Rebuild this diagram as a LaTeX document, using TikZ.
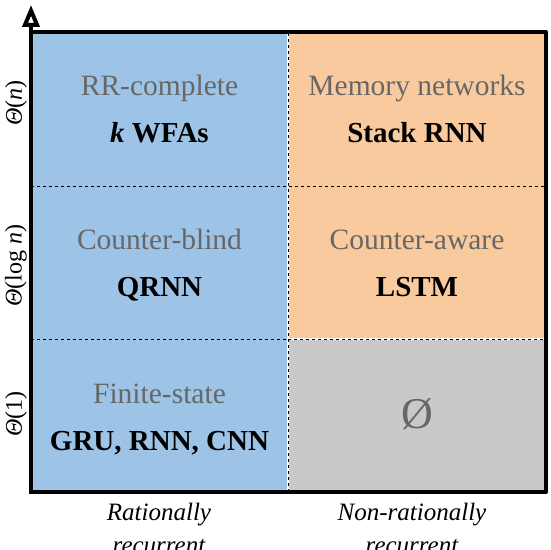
\documentclass[tikz,border=0pt]{standalone}
\usepackage{fontspec}
\setmainfont{Liberation Serif}
\usetikzlibrary{arrows.meta}
\definecolor{cellblue}{HTML}{9DC3E6}
\definecolor{cellorange}{HTML}{F8CA9E}
\definecolor{cellgray}{HTML}{C9C9C9}
\definecolor{labelgray}{HTML}{676767}
\begin{document}
\begin{tikzpicture}[x=1pt, y=1pt, line join=round,
	cls/.style={text=labelgray, font=\fontsize{29.5}{34}\selectfont, anchor=base},
	mdl/.style={font=\fontsize{29}{34}\selectfont\bfseries, anchor=base},
	ylbl/.style={font=\fontsize{24}{28}\selectfont, rotate=90},
	xlbl/.style={font=\fontsize{25}{33}\selectfont\itshape, align=center, anchor=base}]
		\useasboundingbox (0,0) rectangle (550,550);
		% cells
		\fill[cellblue] (31,58) rectangle (288,518);
		\fill[cellorange] (288,211) rectangle (546,518);
		\fill[cellgray] (288,58) rectangle (546,211);
		\draw[dashed, line width=.8] (31,364)--(546,364) (31,211)--(546,211);
		\draw[white, line width=2] (288,58)--(288,518) (288,211)--(546,211);
		\draw[dashed, line width=.8] (288,58)--(288,518) (288,211)--(546,211);
		% frame and axis
		\draw[line width=4, line cap=rect] (31,518)--(546,518)--(546,58)--(31,58);
		\draw[line width=4, -{Triangle[open, length=22pt, width=17pt, line width=4pt]}] (31,56)--(31,545);
		% class names and models
		\node[cls] (rrc) at (159.5,454) {RR-complete};
		\node[mdl] (wfa) at (159.5,407) {\textit{k} WFAs};
		\node[cls] (mem) at (417,454) {Memory networks};
		\node[mdl] (stk) at (417,407) {Stack RNN};
		\node[cls] (cbl) at (159.5,300.5) {Counter-blind};
		\node[mdl] (qrn) at (159.5,253.5) {QRNN};
		\node[cls] (caw) at (417,300.5) {Counter-aware};
		\node[mdl] (lst) at (417,253.5) {LSTM};
		\node[cls] (fin) at (159.5,146.7) {Finite-state};
		\node[mdl] (gru) at (159.5,99.7) {GRU, RNN, CNN};
		\node[text=labelgray, font=\fontsize{44}{50}\selectfont] (emp) at (417,135.5) {Ø};
		% axis labels
		\node[ylbl] (yn) at (16,447) {\textit{Θ}(\textit{n})};
		\node[ylbl] (ylog) at (16,284.5) {\textit{Θ}(log \textit{n})};
		\node[ylbl] (yone) at (16,136) {\textit{Θ}(1)};
		\node[xlbl] (rat) at (159,-3) {Rationally\\recurrent};
		\node[xlbl] (nrat) at (412,-3) {Non-rationally\\recurrent};
\end{tikzpicture}
\end{document}
